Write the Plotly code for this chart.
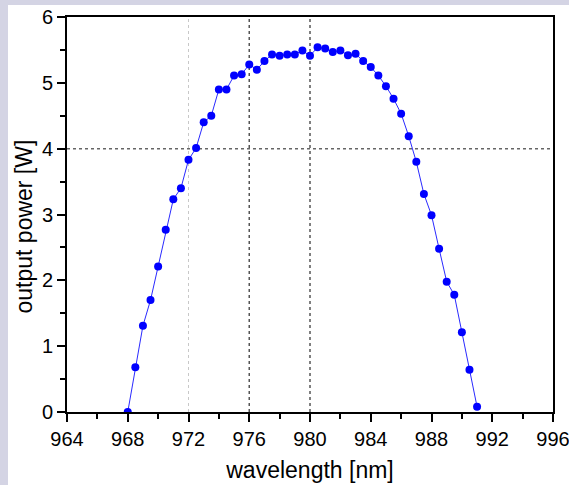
import plotly.graph_objects as go

wavelength = [968.0, 968.5, 969.0, 969.5, 970.0, 970.5, 971.0, 971.5, 972.0, 972.5,
              973.0, 973.5, 974.0, 974.5, 975.0, 975.5, 976.0, 976.5, 977.0, 977.5,
              978.0, 978.5, 979.0, 979.5, 980.0, 980.5, 981.0, 981.5, 982.0, 982.5,
              983.0, 983.5, 984.0, 984.5, 985.0, 985.5, 986.0, 986.5, 987.0, 987.5,
              988.0, 988.5, 989.0, 989.5, 990.0, 990.5, 991.0]
power = [0.00, 0.68, 1.31, 1.70, 2.21, 2.77, 3.23, 3.40, 3.83, 4.01,
         4.40, 4.50, 4.90, 4.90, 5.11, 5.13, 5.28, 5.20, 5.33, 5.43,
         5.41, 5.43, 5.43, 5.49, 5.41, 5.54, 5.52, 5.47, 5.49, 5.42,
         5.44, 5.33, 5.24, 5.11, 4.95, 4.76, 4.53, 4.19, 3.80, 3.31,
         2.99, 2.48, 1.98, 1.78, 1.21, 0.64, 0.08]

x_ticks = [964, 968, 972, 976, 980, 984, 988, 992, 996]
y_ticks = [0, 1, 2, 3, 4, 5, 6]
vlines = [(972, "#c8c8c8", 1, "dot"), (976, "#555555", 1.5, "dot"), (980, "#000000", 1, "dot")]
hline_value = 4

FONT = "Liberation Sans, Arial, sans-serif"

fig = go.Figure()
fig.add_trace(go.Scatter(
    x=wavelength, y=power, mode="lines+markers",
    line=dict(color="#2a2aff", width=1),
    marker=dict(color="#0000ff", size=8, line=dict(width=0)),
    cliponaxis=True, showlegend=False,
))

shapes = []
for xv, col, w, dash in vlines:
    shapes.append(dict(type="line", xref="x", yref="paper", x0=xv, x1=xv, y0=0, y1=1,
                       line=dict(color=col, width=w, dash=dash), layer="below"))
shapes.append(dict(type="line", xref="paper", yref="y", x0=0, x1=1, y0=hline_value, y1=hline_value,
                   line=dict(color="#666666", width=1.5, dash="dot"), layer="below"))

# lavender frame bands (left and top)
pw, ph = 486, 395
shapes.append(dict(type="rect", xref="paper", yref="paper",
                   x0=-67/pw - 0.01, x1=(8-67)/pw, y0=-73/ph - 0.01, y1=1 + 17/ph + 0.01,
                   fillcolor="#d4d4e4", line=dict(width=0), layer="below"))
shapes.append(dict(type="rect", xref="paper", yref="paper",
                   x0=-67/pw - 0.01, x1=1 + 16/pw + 0.01, y0=1 + 12/ph, y1=1 + 17/ph + 0.01,
                   fillcolor="#d4d4e4", line=dict(width=0), layer="below"))

fig.update_layout(
    width=569, height=485,
    margin=dict(l=67, r=16, t=17, b=73, autoexpand=False),
    paper_bgcolor="white", plot_bgcolor="white",
    font=dict(family=FONT, color="black", size=20),
    shapes=shapes,
    annotations=[dict(text="output power [W]", xref="paper", yref="paper",
                      x=(23.5 - 67) / pw, y=1 - (227 - 17) / ph, textangle=-90,
                      xanchor="center", yanchor="middle", showarrow=False,
                      font=dict(size=23, family=FONT, color="black"))],
    xaxis=dict(
        range=[964, 996], tickvals=x_ticks, ticktext=[str(v) for v in x_ticks],
        automargin=False, ticklabeloverflow="allow",
        showgrid=False, zeroline=False, showline=True, linecolor="black", linewidth=2,
        mirror=True, ticks="outside", ticklen=8, tickwidth=2, tickcolor="black",
        minor=dict(dtick=2, tick0=964, ticks="outside", ticklen=5, tickwidth=2, tickcolor="black"),
        tickfont=dict(size=20),
        title=dict(text="wavelength [nm]", font=dict(size=23), standoff=13),
    ),
    yaxis=dict(
        range=[0, 6], tickvals=y_ticks, ticktext=[str(v) for v in y_ticks],
        automargin=False, ticklabeloverflow="allow",
        showgrid=False, zeroline=False, showline=True, linecolor="black", linewidth=2,
        mirror=True, ticks="outside", ticklen=8, tickwidth=2, tickcolor="black",
        minor=dict(dtick=0.5, tick0=0, ticks="outside", ticklen=5, tickwidth=2, tickcolor="black"),
        tickfont=dict(size=20),
    ),
)

fig.write_html("out.html", config={"displayModeBar": False},
               post_script="document.body.style.margin='0';document.body.style.overflow='hidden';")
